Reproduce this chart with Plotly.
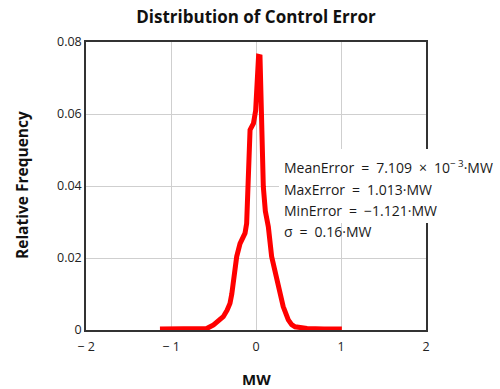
import plotly.graph_objects as go

# Data
error_mw = [-1.13, -0.9, -0.7, -0.58, -0.50, -0.44, -0.385, -0.34, -0.306, -0.285,
            -0.267, -0.245, -0.227, -0.188, -0.15, -0.129, -0.11, -0.10, -0.09, -0.07,
            -0.05, -0.03, -0.004, 0.016, 0.03, 0.047, 0.06, 0.067, 0.086, 0.11,
            0.145, 0.184, 0.22, 0.26, 0.32, 0.38, 0.42, 0.46, 0.6, 0.8, 1.01]
rel_freq = [0.0003, 0.0002, 0.0003, 0.0004, 0.0014, 0.0025, 0.0037, 0.0055, 0.0074, 0.010,
            0.013, 0.017, 0.0204, 0.024, 0.026, 0.0269, 0.0296, 0.036, 0.0417, 0.0556,
            0.0565, 0.0574, 0.061, 0.0759, 0.076, 0.0759, 0.062, 0.0556, 0.0398, 0.033,
            0.0287, 0.0204, 0.017, 0.013, 0.0065, 0.0028, 0.0015, 0.0009, 0.0004, 0.0003, 0.0003]

x_ticks = [-2, -1, 0, 1, 2]
x_tick_text = ["\u2212 2", "\u2212 1", "0", "1", "2"]
y_ticks = [0, 0.02, 0.04, 0.06, 0.08]
y_tick_text = ["0", "0.02", "0.04", "0.06", "0.08"]

SP = "\u2002"
stats_lines = [
    f"MeanError{SP}={SP}7.109{SP}\u00d7{SP}10<sup>\u2212 3</sup>\u00b7MW",
    f"MaxError{SP}={SP}1.013\u00b7MW",
    f"MinError{SP}={SP}\u22121.121\u00b7MW",
    f"\u03c3{SP}={SP}0.16\u00b7MW",
]

FONT = "Open Sans"

fig = go.Figure()
fig.add_trace(go.Scatter(x=error_mw, y=rel_freq, mode="lines",
                         line=dict(color="#ff0000", width=5), showlegend=False))

L, R, T, B = 86, 74, 42, 59
W, H = 500, 389
pw, ph = W - L - R, H - T - B

def px_x(X):
    return (X - L) / pw

def px_y(Y):
    return 1 - (Y - T) / ph

fig.add_shape(type="rect", xref="paper", yref="paper",
              x0=px_x(279), x1=px_x(505), y0=px_y(223), y1=px_y(149),
              fillcolor="white", line=dict(width=0), layer="above")

line_y = [167, 189, 210, 231]
for txt, yy in zip(stats_lines, line_y):
    fig.add_annotation(text=txt, xref="paper", yref="paper", x=px_x(282), y=px_y(yy),
                       xanchor="left", yanchor="middle", showarrow=False,
                       font=dict(family=FONT, size=14, color="#1a1a1a"))

# axis titles
fig.add_annotation(text="<b>MW</b>", xref="paper", yref="paper", x=px_x(256), y=px_y(379),
                   xanchor="center", yanchor="middle", showarrow=False,
                   font=dict(family=FONT, size=15, color="#111"))
fig.add_annotation(text="<b>Relative Frequency</b>", xref="paper", yref="paper", x=px_x(22), y=px_y(185),
                   xanchor="center", yanchor="middle", showarrow=False, textangle=-90,
                   font=dict(family=FONT, size=15.5, color="#111"))

fig.update_layout(
    width=W, height=H,
    margin=dict(l=L, r=R, t=T, b=B),
    paper_bgcolor="white", plot_bgcolor="white",
    title=dict(text="<b>Distribution of Control Error</b>", x=(L + pw / 2) / W,
               xanchor="center", y=1 - 17 / H, yanchor="middle",
               font=dict(family=FONT, size=17, color="#111")),
    xaxis=dict(range=[-2, 2], tickvals=x_ticks, ticktext=x_tick_text, automargin=False,
               showgrid=True, gridcolor="#cfcfcf", gridwidth=1, zeroline=False,
               showline=True, linecolor="#333", linewidth=1.5, mirror=True,
               ticks="", ticklabelstandoff=4, tickfont=dict(family=FONT, size=12.5, color="#222")),
    yaxis=dict(range=[0, 0.08], tickvals=y_ticks, ticktext=y_tick_text, automargin=False,
               showgrid=True, gridcolor="#cfcfcf", gridwidth=1, zeroline=False,
               showline=True, linecolor="#333", linewidth=1.5, mirror=True,
               ticks="", tickfont=dict(family=FONT, size=12.5, color="#222")),
)

fig.write_html("out.html")
